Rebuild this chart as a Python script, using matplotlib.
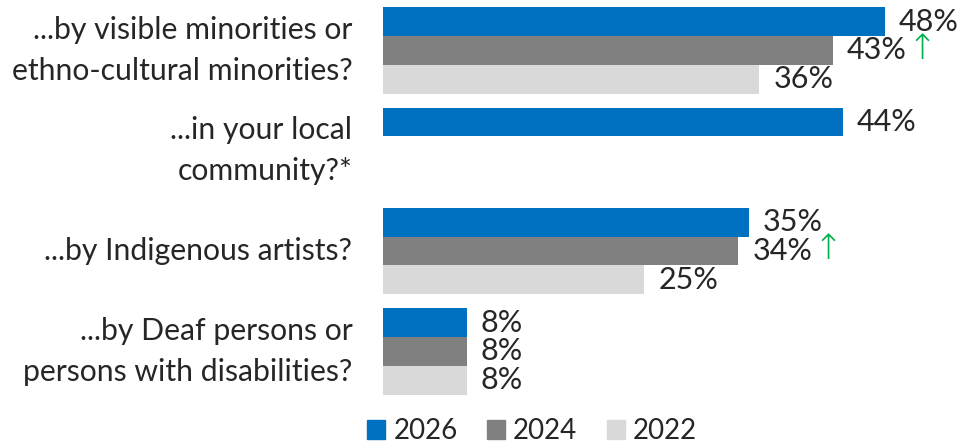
import numpy as np
import matplotlib.pyplot as plt
from matplotlib.patches import Patch

plt.rcParams['font.family'] = ['Lato', 'DejaVu Sans']

categories = ["...by visible minorities or\nethno-cultural minorities?",
              "...in your local\ncommunity?*",
              "...by Indigenous artists?",
              "...by Deaf persons or\npersons with disabilities?"]
years = ["2026", "2024", "2022"]
pct_2026 = [48, 44, 35, 8]
pct_2024 = [43, np.nan, 34, 8]
pct_2022 = [36, np.nan, 25, 8]
# green arrow = significant increase vs the previous wave
up_2024 = [True, False, True, False]

colors = ["#0070C0", "#808080", "#D9D9D9"]
text_color = "#262626"
fs_cat = 21.7
fs_val = 22
fs_leg = 20

W, H = 957, 444
fig = plt.figure(figsize=(W / 100, H / 100), dpi=100)
ax = fig.add_axes([383 / W, 44 / H, 575 / W, 400 / H])

y = np.arange(len(categories))
h = 0.287
series = [pct_2026, pct_2024, pct_2022]
for i, vals in enumerate(series):
    pos = y + (i - 1) * h
    ax.barh(pos, vals, height=h, color=colors[i], linewidth=0)
    for j, v in enumerate(vals):
        if np.isnan(v):
            continue
        t = ax.annotate(f"{v:.0f}%", xy=(v, pos[j]), xytext=(10, 0),
                        textcoords="offset points", ha="left", va="center",
                        fontsize=fs_val, color=text_color)
        if i == 1 and up_2024[j]:
            ax.annotate("\u2191", xy=(1, 0), xycoords=t, xytext=(1, -1),
                        textcoords="offset points", ha="left", va="bottom",
                        fontsize=25, color="#00B050", family="DejaVu Sans",
                        fontweight="light")

ax.set_xlim(0, 55)
ax.set_ylim(3.485, -0.503)
ax.set_yticks(y)
ax.set_yticklabels(categories, fontsize=fs_cat, color=text_color,
                   linespacing=1.55, va="center")
ax.tick_params(axis="y", length=0, pad=22)
ax.set_xticks([])
for s in ax.spines.values():
    s.set_visible(False)

handles = [Patch(color=c, label=l) for c, l in zip(colors, years)]
fig.legend(handles=handles, loc="lower center", bbox_to_anchor=(532 / W, -0.057),
           ncol=3, frameon=False, fontsize=fs_leg, handlelength=0.65, handleheight=0.65,
           handletextpad=0.3, columnspacing=1.05, labelcolor=text_color)

fig.savefig("out.png", dpi=100)
